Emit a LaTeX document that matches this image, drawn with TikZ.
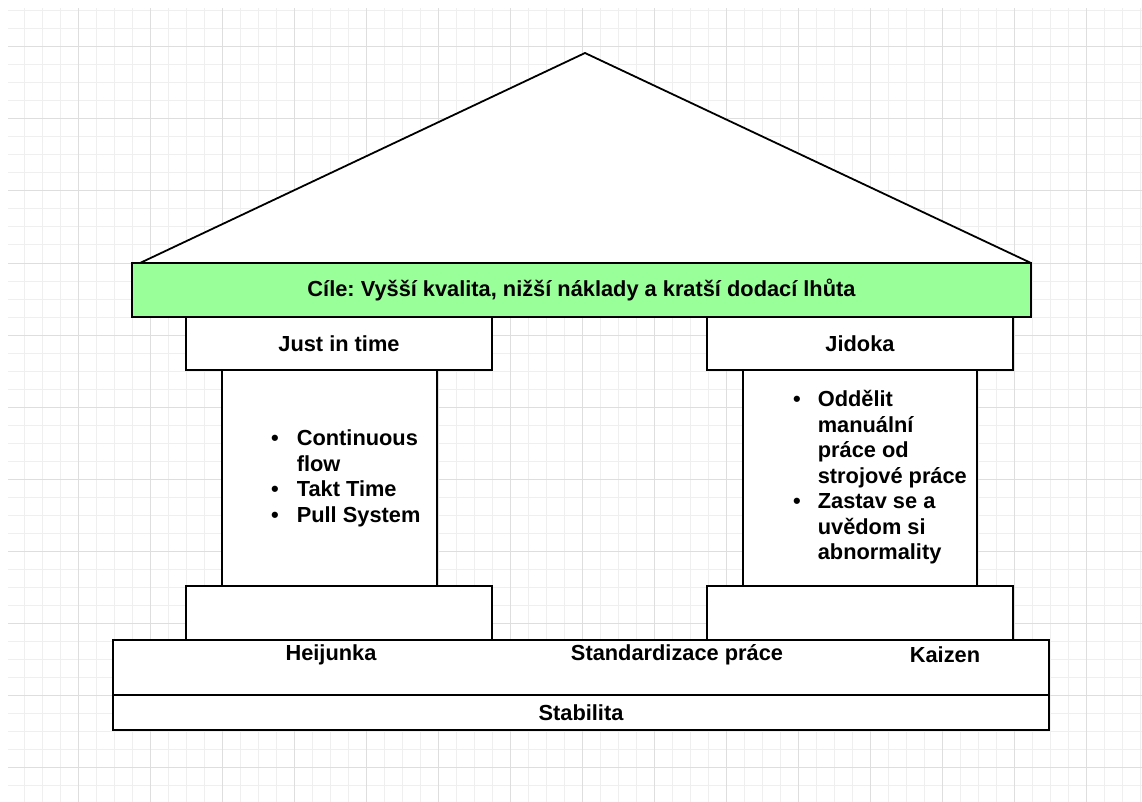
\documentclass[tikz,border=0pt]{standalone}
\usepackage{fontspec}
\setmainfont{Liberation Sans}
\usetikzlibrary{positioning}
\definecolor{goalgreen}{HTML}{99FF99}
\definecolor{gridmajor}{HTML}{DEDEDE}
\definecolor{gridminor}{HTML}{EFEFEF}
\newcommand{\bitem}{\textbullet}
\frenchspacing

\begin{document}
\begin{tikzpicture}[
  x=1pt, y=-1pt, % 1 px of the sketch = 1 pt
  housebox/.style={draw, line width=1.8pt, fill=white, inner sep=0pt,
                   font=\fontsize{21.8}{25.5}\selectfont\bfseries},
  goalbox/.style={housebox, fill=goalgreen},
  tlabel/.style={font=\fontsize{21.8}{25.5}\selectfont\bfseries, inner sep=0pt},
  minorline/.style={draw=gridminor, line width=1pt},
  majorline/.style={draw=gridmajor, line width=1pt}
]
  \useasboundingbox (0,0) rectangle (1142,802);
  \fill[white] (0,0) rectangle (1142,802);

  % background grid
  \foreach \x in {24,42,...,1140} { \draw[minorline] (\x,8) -- (\x,802); }
  \foreach \y in {11,29,...,801}  { \draw[minorline] (8,\y) -- (1142,\y); }
  \foreach \x in {78,150,...,1086} { \draw[majorline] (\x,8) -- (\x,802); }
  \foreach \y in {47,119,...,767}  { \draw[majorline] (8,\y) -- (1142,\y); }

  % roof
  \filldraw[fill=white, line width=1.8pt, line join=miter] (140,263) -- (585,53) -- (1031,263);

  % goals
  \node[goalbox, minimum width=899, minimum height=54] (goal) at (581.5,290)
    {Cíle: Vyšší kvalita, nižší náklady a kratší dodací lhůta};

  % pillar caps
  \node[housebox, minimum width=306, minimum height=53] (jit)    at (339,343.5) {Just in time};
  \node[housebox, minimum width=306, minimum height=53] (jidoka) at (860,343.5) {Jidoka};

  % pillar shafts
  \node[housebox, minimum width=215, minimum height=216] (jitshaft)    at (329.5,478) {};
  \node[housebox, minimum width=234, minimum height=216] (jidokashaft) at (860,478) {};

  % pillar bases
  \node[housebox, minimum width=306, minimum height=54] (jitbase)    at (339,613) {};
  \node[housebox, minimum width=306, minimum height=54] (jidokabase) at (860,613) {};

  % foundation
  \node[housebox, minimum width=936, minimum height=55] (found) at (581,667.5) {};
  \node[housebox, minimum width=936, minimum height=35] (stab)  at (581,712.5) {Stabilita};
  \node[tlabel] (heijunka) at (331,655) {Heijunka};
  \node[tlabel] (standard) at (677,655) {Standardizace práce};
  \node[tlabel] (kaizen)   at (945,655) {Kaizen};

  % bullet lists
  \node[tlabel, anchor=west] (jitlist) at (271,479) {%
    \begin{tabular}{@{}l@{\hspace{18pt}}l@{}}
      \bitem & Continuous\\
             & flow\\
      \bitem & Takt Time\\
      \bitem & Pull System
    \end{tabular}};
  \node[tlabel, anchor=west] (jidokalist) at (793,478) {%
    \begin{tabular}{@{}l@{\hspace{17pt}}l@{}}
      \bitem & Oddělit\\
             & manuální\\
             & práce od\\
             & strojové práce\\
      \bitem & Zastav se a\\
             & uvědom si\\
             & abnormality
    \end{tabular}};
\end{tikzpicture}
\end{document}
